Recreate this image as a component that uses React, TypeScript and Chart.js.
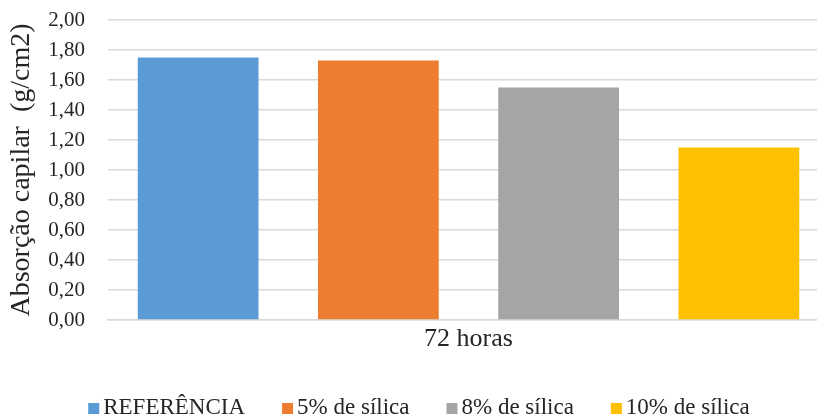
import React, { useEffect, useRef } from "react";
import { Chart, registerables } from "chart.js";

Chart.register(...registerables);

const categories = ["72 horas"];
const seriesNames = ["REFERÊNCIA", "5% de sílica", "8% de sílica", "10% de sílica"];
const seriesValues = [[1.75], [1.73], [1.55], [1.15]];
const seriesColors = ["#5B9BD5", "#ED7D31", "#A5A5A5", "#FFC000"];
const yTitle = "Absorção capilar  (g/cm2)";

const FONT = "'Liberation Serif', 'Times New Roman', serif";

const bottomLegend = {
  id: "bottomLegend",
  afterDraw(chart: any) {
    const ctx = chart.ctx;
    const fontSize = 23;
    ctx.save();
    ctx.font = `${fontSize}px ${FONT}`;
    const box = 11;
    const gap = 4;
    const spacing = 37;
    const items = chart.data.datasets.map((d: any) => ({
      label: d.label,
      color: d.backgroundColor,
      w: box + gap + ctx.measureText(d.label).width,
    }));
    const total = items.reduce((s: number, it: any) => s + it.w, 0) + spacing * (items.length - 1);
    let x = chart.width / 2 - total / 2;
    const y = 408;
    ctx.textBaseline = "middle";
    ctx.textAlign = "left";
    for (const it of items) {
      ctx.fillStyle = it.color;
      ctx.fillRect(x, y - 5, box, box);
      ctx.fillStyle = "#262626";
      ctx.fillText(it.label, x + box + gap, y);
      x += it.w + spacing;
    }
    ctx.restore();
  },
};

export default function App() {
  const ref = useRef<HTMLCanvasElement | null>(null);
  useEffect(() => {
    document.body.style.overflow = "hidden";
    const chart = new Chart(ref.current!, {
      type: "bar",
      data: {
        labels: categories,
        datasets: seriesNames.map((name, i) => ({
          label: name,
          data: seriesValues[i],
          backgroundColor: seriesColors[i],
          borderWidth: 0,
          categoryPercentage: 1,
          barPercentage: 0.67,
        })),
      },
      options: {
        animation: false,
        responsive: true,
        maintainAspectRatio: false,
        layout: { padding: { top: 20, right: 9, bottom: 0, left: 0 } },
        plugins: { legend: { display: false }, tooltip: { enabled: false } },
        scales: {
          x: {
            grid: { display: false, drawTicks: false },
            border: { display: true, color: "#d9d9d9", width: 1.5 },
            ticks: { color: "#262626", font: { family: FONT, size: 26, lineHeight: 1 }, padding: 6 },
            afterFit: (s: any) => {
              s.height = 98;
            },
          },
          y: {
            min: 0,
            max: 2,
            grid: { color: "#d9d9d9", lineWidth: 1.5, drawTicks: false },
            border: { display: false },
            ticks: {
              stepSize: 0.2,
              color: "#262626",
              padding: 23,
              font: { family: FONT, size: 21 },
              callback: (v: any) => Number(v).toFixed(2).replace(".", ","),
            },
            title: {
              display: true,
              text: yTitle,
              color: "#262626",
              font: { family: FONT, size: 28, lineHeight: 1 },
              padding: { top: 8, bottom: 0 },
            },
            afterFit: (s: any) => {
              s.width = 108;
              s.paddingTop = 10;
              s.paddingBottom = 10;
            },
          },
        },
      },
      plugins: [bottomLegend],
    });
    return () => chart.destroy();
  }, []);
  return (
    <div style={{ position: "fixed", left: 0, top: 0, width: 838, height: 418, background: "#fff" }}>
      <canvas ref={ref} />
    </div>
  );
}
